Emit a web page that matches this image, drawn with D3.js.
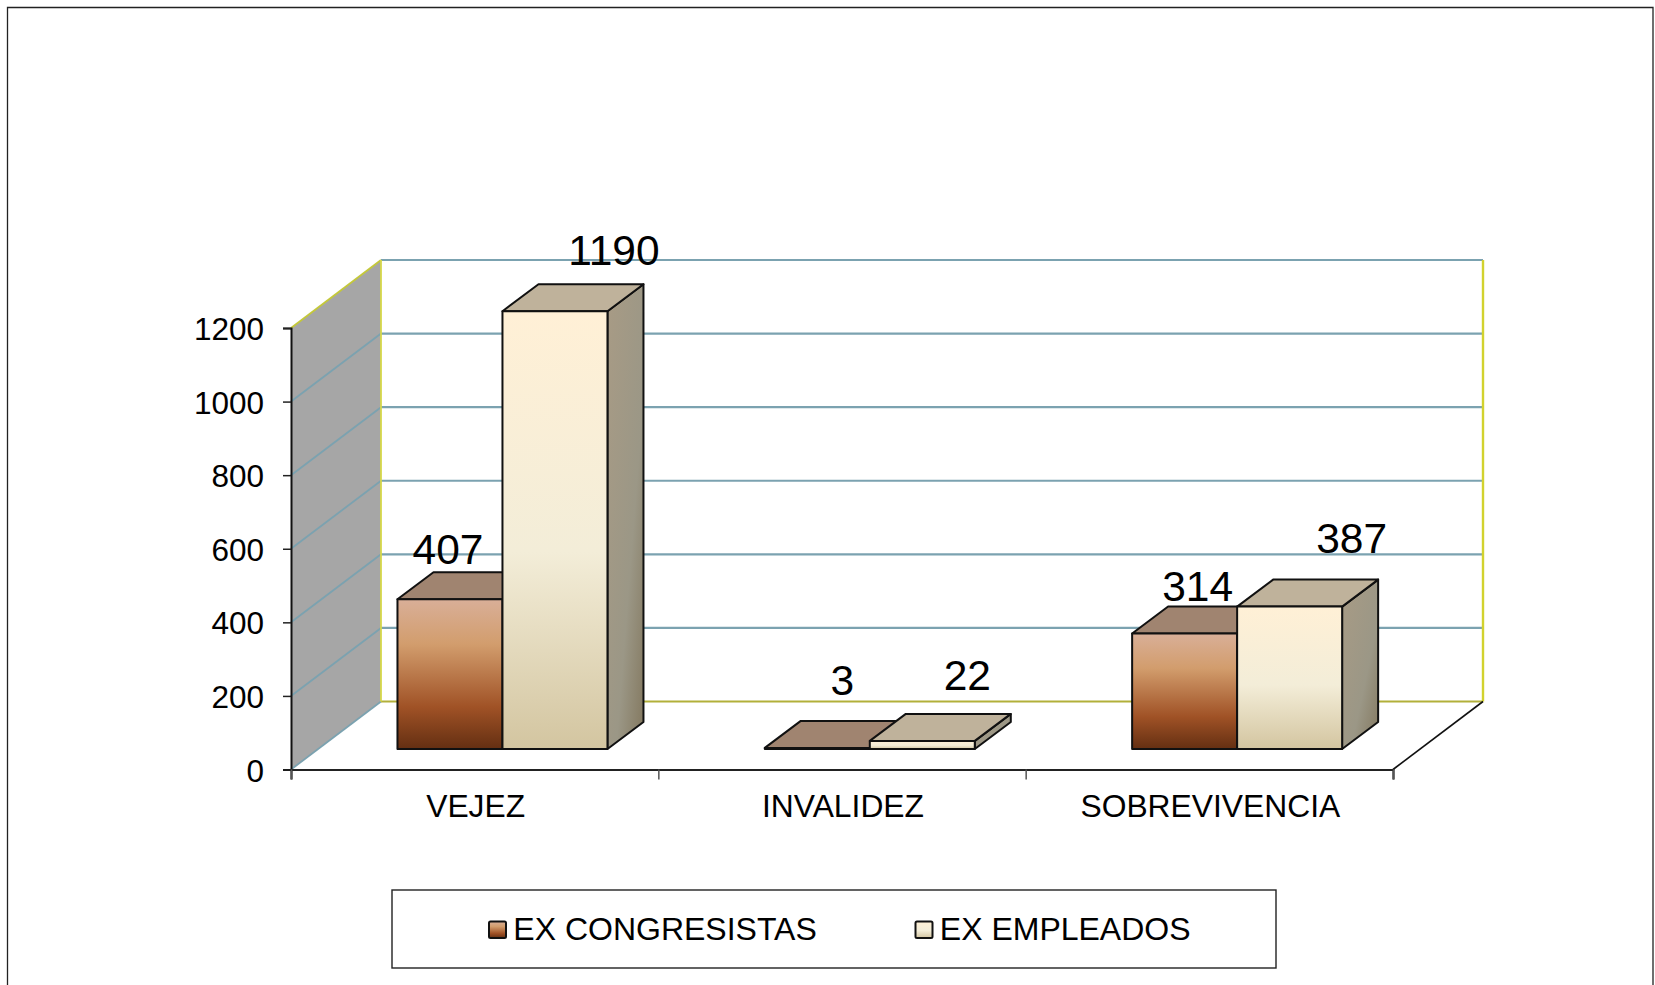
<!DOCTYPE html>
<html><head><meta charset="utf-8">
<script src="https://cdn.jsdelivr.net/npm/d3@7/dist/d3.min.js"></script>
<style>
html,body{margin:0;padding:0;background:#fff;overflow:hidden}
svg{display:block}
text{font-family:"Liberation Sans",Arial,sans-serif;fill:#000}
</style></head><body>
<script>
const categories = ["VEJEZ","INVALIDEZ","SOBREVIVENCIA"];
const seriesNames = ["EX CONGRESISTAS","EX EMPLEADOS"];
const exCongresistas = [407,3,314];
const exEmpleados = [1190,22,387];
const yTicks = [0,200,400,600,800,1000,1200];

const W=1655,H=985;
const svg=d3.select("body").append("svg").attr("width",W).attr("height",H);
const defs=svg.append("defs");

// plot geometry
const x0=291,x1=1393,y0=769.5,yTop=328;
const wallDx=90,wallDy=-68;      // depth of the floor
const barDx=36,barDy=-27;        // depth of a bar
const frontDx=27.8,frontDy=-20.5;// bar front plane behind the axis plane
const barW=105;

const y=d3.scaleLinear().domain([0,1200]).range([y0,yTop]);
const xCat=d3.scaleBand().domain(categories).range([x0,x1]);
const xSer=d3.scaleBand().domain(seriesNames).range([-barW,barW]);

function grad(id,stops,diag){
  const g=defs.append("linearGradient").attr("id",id)
    .attr("x1",0).attr("y1",0).attr("x2",diag?1:0).attr("y2",1);
  stops.forEach(s=>g.append("stop").attr("offset",s[0]).attr("stop-color",s[1]));
}
grad("frontA",[[0,"#d9af98"],[0.3,"#d29d6d"],[0.72,"#a05226"],[1,"#642f12"]]);
grad("frontB",[[0,"#fff0d6"],[0.55,"#f3edd8"],[1,"#d3c5a0"]]);
grad("sideB",[[0,"#a89b85"],[0.62,"#9b9786"],[1,"#83785f"]],true);
grad("sideA",[[0,"#8f6f5a"],[1,"#5a3a22"]],true);
const topCol=["#a08470","#bfb29b"];
const frontFill=["url(#frontA)","url(#frontB)"];
const sideFill=["url(#sideA)","url(#sideB)"];

// outer frame
svg.append("path").attr("d",`M7.5,${H}V7.5H1653V${H}`).attr("fill","none").attr("stroke","#222").attr("stroke-width",1.3);

const poly=pts=>"M"+pts.map(p=>p.join(",")).join("L")+"Z";

// left wall
svg.append("path").attr("d",poly([[x0,y(0)],[x0+wallDx,y(0)+wallDy],[x0+wallDx,y(1200)+wallDy],[x0,y(1200)]])).attr("fill","#a6a6a6");

// grid lines
const gridCol="#7ba2b0";
yTicks.forEach(t=>{
  const yy=y(t);
  const wallCol=t===1200?"#c4c83a":gridCol;
  svg.append("line").attr("x1",x0).attr("y1",yy).attr("x2",x0+wallDx).attr("y2",yy+wallDy).attr("stroke",wallCol).attr("stroke-width",1.8);
  svg.append("line").attr("x1",x0+wallDx).attr("y1",yy+wallDy).attr("x2",x1+wallDx).attr("y2",yy+wallDy)
    .attr("stroke",t===0?"#b2b03a":gridCol).attr("stroke-width",2.2);
});
// back wall verticals
svg.append("line").attr("x1",x0+wallDx).attr("y1",y(0)+wallDy).attr("x2",x0+wallDx).attr("y2",y(1200)+wallDy).attr("stroke","#d6d84a").attr("stroke-width",1.8);
svg.append("line").attr("x1",x1+wallDx).attr("y1",y(0)+wallDy).attr("x2",x1+wallDx).attr("y2",y(1200)+wallDy).attr("stroke","#d2d22e").attr("stroke-width",2.4);
// floor right edge
svg.append("line").attr("x1",x1).attr("y1",y(0)).attr("x2",x1+wallDx).attr("y2",y(0)+wallDy).attr("stroke","#111").attr("stroke-width",1.6);

// bars
const seriesValues=[exCongresistas,exEmpleados];
const labelShift=[[[-2,-35],[25,-53],[13,-32.5]],[[59,-46],[45,-51],[62,-53.5]]];
const drawOrder=[];
categories.forEach((c,ci)=>seriesNames.forEach((s,si)=>drawOrder.push({c,ci,s,si,v:seriesValues[si][ci]})));
const bars=svg.append("g");
drawOrder.forEach(d=>{
  const xl=xCat(d.c)+xCat.bandwidth()/2+frontDx+xSer(d.s);
  const xr=xl+xSer.bandwidth();
  const yb=y(0)+frontDy, yt=y(d.v)+frontDy;
  const g=bars.append("g").attr("stroke","#111").attr("stroke-width",2).attr("stroke-linejoin","round");
  g.append("path").attr("d",poly([[xr,yb],[xr+barDx,yb+barDy],[xr+barDx,yt+barDy],[xr,yt]])).attr("fill",sideFill[d.si]);
  g.append("path").attr("d",poly([[xl,yt],[xl+barDx,yt+barDy],[xr+barDx,yt+barDy],[xr,yt]])).attr("fill",topCol[d.si]);
  g.append("rect").attr("x",xl).attr("y",yt).attr("width",xr-xl).attr("height",Math.max(yb-yt,0.5)).attr("fill",frontFill[d.si]);
});
// value labels
drawOrder.forEach(d=>{
  const n=labelShift[d.si][d.ci];
  const xl=xCat(d.c)+xCat.bandwidth()/2+frontDx+xSer(d.s);
  svg.append("text").attr("x",xl+barW/2+n[0]).attr("y",y(d.v)+frontDy+n[1])
    .attr("text-anchor","middle").attr("font-size",42.5).text(d.v);
});

// y axis
const axL=svg.append("g").attr("transform",`translate(${x0},0)`)
  .call(d3.axisLeft(y).tickValues(yTicks).tickSize(8).tickPadding(19).tickFormat(d3.format("d")));
axL.select(".domain").attr("stroke","#111").attr("stroke-width",2);
axL.selectAll(".tick line").attr("stroke","#222").attr("stroke-width",1.5);
axL.selectAll("text").attr("font-size",31.5).attr("font-family",null).attr("y",0.5).attr("dy","0.35em");

// x axis: boundary ticks
const xEdge=d3.scaleLinear().domain([0,categories.length]).range([x0,x1]);
const axB=svg.append("g").attr("transform",`translate(0,${y0})`)
  .call(d3.axisBottom(xEdge).ticks(categories.length).tickSize(10).tickFormat(""));
axB.select(".domain").attr("stroke","#222").attr("stroke-width",2.2);
axB.selectAll(".tick line").attr("stroke","#555").attr("stroke-width",1.5);
// x axis: category labels
const axC=svg.append("g").attr("transform",`translate(1,${y0})`)
  .call(d3.axisBottom(xCat).tickSize(0).tickPadding(25));
axC.select(".domain").remove();
axC.selectAll("text").attr("font-size",31.8).attr("font-family",null);

// legend
svg.append("rect").attr("x",392).attr("y",890).attr("width",884).attr("height",78).attr("fill","#fff").attr("stroke","#222").attr("stroke-width",1.4);
const legendX=[489,915.5];
seriesNames.forEach((s,i)=>{
  svg.append("rect").attr("x",legendX[i]).attr("y",921.5).attr("width",17).attr("height",16.5)
    .attr("fill",frontFill[i]).attr("stroke","#111").attr("stroke-width",2).attr("rx",1.5);
  svg.append("text").attr("x",legendX[i]+24.3).attr("y",940).attr("font-size",32).text(s);
});
</script>
</body></html>
